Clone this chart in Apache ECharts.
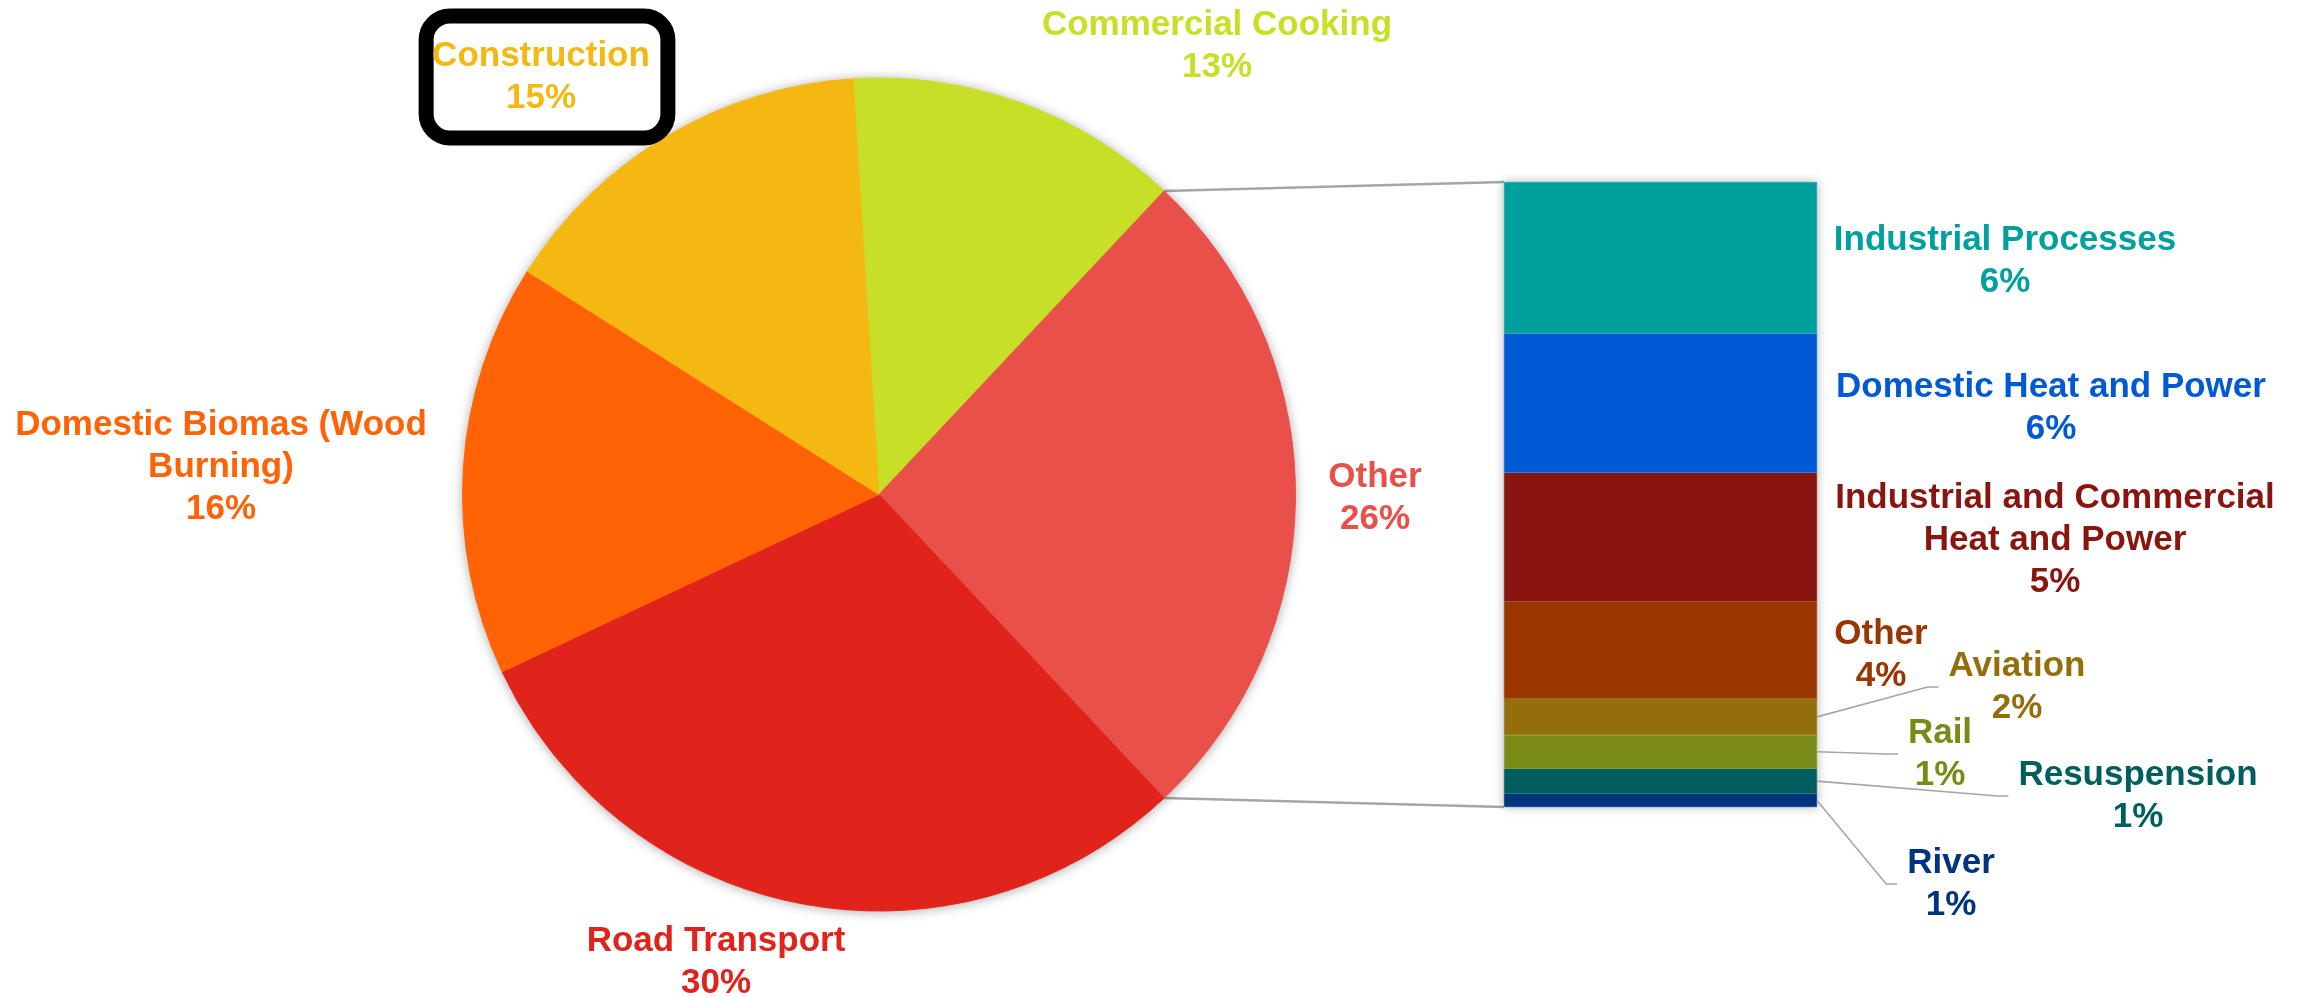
<!DOCTYPE html>
<html>
<head>
<meta charset="utf-8">
<script src="https://cdn.jsdelivr.net/npm/echarts@6/dist/echarts.min.js"></script>
<style>
  html, body { margin: 0; padding: 0; background: #ffffff; }
  #chart { width: 2310px; height: 997px; }
</style>
</head>
<body>
<div id="chart"></div>
<script>
// Main sources, percent of total
const pieNames  = ['Commercial Cooking', 'Other', 'Road Transport', 'Domestic Biomas (Wood Burning)', 'Construction'];
const pieLabels = ['Commercial Cooking', 'Other', 'Road Transport', 'Domestic Biomas (Wood\nBurning)', 'Construction'];
const pieValues = [13, 26, 30, 16, 15];
const pieColors = ['#C7E027', '#E9504A', '#E0231B', '#FF6305', '#F5B813'];

// Breakdown of "Other", listed top to bottom of the stacked bar
const otherNames  = ['Industrial Processes', 'Domestic Heat and Power', 'Industrial and Commercial Heat and Power', 'Other', 'Aviation', 'Rail', 'Resuspension', 'River'];
const otherLabels = ['Industrial Processes', 'Domestic Heat and Power', 'Industrial and Commercial\nHeat and Power', 'Other', 'Aviation', 'Rail', 'Resuspension', 'River'];
const otherValues = [6.3, 5.8, 5.35, 4.05, 1.5, 1.4, 1.05, 0.55];
const otherColors = ['#00A09F', '#005AD3', '#891511', '#9A3600', '#956E0C', '#7A8A16', '#005F5E', '#00347F'];
const otherWithLeader = ['Aviation', 'Rail', 'Resuspension', 'River'];

// Layout
const PIE_CENTER = [879, 494.5];
const PIE_RADIUS = 416.5;
const BAR_BOX = { left: 1504, top: 182, width: 313, height: 625 };
const FONT = '"Liberation Sans", Arial, Helvetica, sans-serif';
const FONT_SIZE = 35;
const LINE_HEIGHT = 42;
const LEADER_COLOR = '#A6A6A6';

// Label centres (px)
const pieLabelSpots = [
  [1217, 46], [1375, 498], [716, 962], [221, 467], [547, 77]
];
const otherLabelSpots = [
  [2005, 261], [2051, 408], [2055, 540], [1881, 655],
  [2017, 687], [1940, 754], [2138, 796], [1951, 884]
];

const sum = arr => arr.reduce((a, b) => a + b, 0);
const pieTotal = sum(pieValues);
const otherIdx = pieNames.indexOf('Other');
const beforeOther = sum(pieValues.slice(0, otherIdx));
// rotate so that the "Other" slice is centred on the 3 o'clock direction
const startAngle = (beforeOther + pieValues[otherIdx] / 2) / pieTotal * 360;
const otherTotal = sum(otherValues);

const baseText = { fontFamily: FONT, fontWeight: 'bold', fontSize: FONT_SIZE, lineHeight: LINE_HEIGHT, align: 'center' };

const pieData = pieNames.map((n, i) => {
  const item = {
    name: n,
    value: pieValues[i],
    itemStyle: { color: pieColors[i], borderColor: pieColors[i], borderWidth: 1 },
    label: Object.assign({ color: pieColors[i] }, baseText)
  };
  if (n === 'Construction') {
    Object.assign(item.label, {
      borderColor: '#000000', borderWidth: 15, borderRadius: 24,
      padding: [24, 18, 14, 6]
    });
  }
  return item;
});

const series = [
  // soft shadow under the whole pie
  {
    type: 'pie', silent: true, z: 1,
    center: PIE_CENTER, radius: PIE_RADIUS,
    label: { show: false }, labelLine: { show: false },
    itemStyle: { color: '#ffffff', shadowBlur: 12, shadowColor: 'rgba(0,0,0,0.35)', shadowOffsetY: 1 },
    data: [{ value: 1 }]
  },
  {
    type: 'pie', z: 2,
    center: PIE_CENTER, radius: PIE_RADIUS,
    startAngle: startAngle, clockwise: true,
    avoidLabelOverlap: false,
    label: {
      show: true, position: 'outside',
      formatter: p => pieLabels[p.dataIndex] + '\n' + p.value + '%'
    },
    labelLine: { show: false },
    labelLayout: p => ({
      x: pieLabelSpots[p.dataIndex][0], y: pieLabelSpots[p.dataIndex][1],
      align: 'center', verticalAlign: 'middle'
    }),
    data: pieData
  },
  // soft shadow behind the stacked bar
  {
    type: 'bar', silent: true, z: 1,
    barWidth: '100%', barGap: '-100%',
    itemStyle: { color: '#ffffff', shadowBlur: 10, shadowColor: 'rgba(0,0,0,0.3)' },
    data: [otherTotal]
  }
];

// stacked segments, bottom (River) first
for (let i = otherNames.length - 1; i >= 0; i--) {
  const idx = i;
  series.push({
    type: 'bar', name: otherNames[idx], stack: 'other', z: 2,
    barWidth: '100%', barGap: '-100%',
    itemStyle: { color: otherColors[idx], borderColor: otherColors[idx], borderWidth: 0.5 },
    label: Object.assign({
      show: true, position: 'right', color: otherColors[idx], padding: 0,
      formatter: p => otherLabels[idx] + '\n' + Math.round(p.value) + '%'
    }, baseText),
    labelLine: { show: false },
    labelLayout: () => ({
      x: otherLabelSpots[idx][0], y: otherLabelSpots[idx][1],
      align: 'center', verticalAlign: 'middle'
    }),
    data: [otherValues[idx]]
  });
}

const chart = echarts.init(document.getElementById('chart'), null, { renderer: 'canvas' });
chart.setOption({
  animation: false,
  backgroundColor: '#ffffff',
  grid: { left: BAR_BOX.left, top: BAR_BOX.top, width: BAR_BOX.width, height: BAR_BOX.height },
  xAxis: { type: 'category', data: ['Other'], show: false },
  yAxis: { type: 'value', min: 0, max: otherTotal, show: false },
  series: series
});

// connector lines from the "Other" slice edges to the bar corners
const rad = d => d * Math.PI / 180;
const aTop = startAngle - beforeOther / pieTotal * 360;
const aBottom = aTop - pieValues[otherIdx] / pieTotal * 360;
const onPie = a => [PIE_CENTER[0] + PIE_RADIUS * Math.cos(rad(a)), PIE_CENTER[1] - PIE_RADIUS * Math.sin(rad(a))];
const barTop = chart.convertToPixel({ gridIndex: 0 }, [0, otherTotal]);
const barBottom = chart.convertToPixel({ gridIndex: 0 }, [0, 0]);
const half = BAR_BOX.width / 2;
const graphics = [
  { type: 'line', z: 0, shape: { x1: onPie(aTop)[0], y1: onPie(aTop)[1], x2: barTop[0] - half, y2: barTop[1] },
    style: { stroke: LEADER_COLOR, lineWidth: 2.5 } },
  { type: 'line', z: 0, shape: { x1: onPie(aBottom)[0], y1: onPie(aBottom)[1], x2: barBottom[0] - half, y2: barBottom[1] },
    style: { stroke: LEADER_COLOR, lineWidth: 2.5 } }
];

// leader lines for the thin segments: from the middle of the segment's right edge
// to the left-middle of its label
const measureCtx = document.createElement('canvas').getContext('2d');
measureCtx.font = 'bold ' + FONT_SIZE + 'px ' + FONT;
const labelWidth = text => Math.max.apply(null, text.split('\n').map(t => measureCtx.measureText(t).width));
otherNames.forEach((n, idx) => {
  if (otherWithLeader.indexOf(n) < 0) return;
  const below = sum(otherValues.slice(idx + 1));
  const mid = chart.convertToPixel({ gridIndex: 0 }, [0, below + otherValues[idx] / 2]);
  const text = otherLabels[idx] + '\n' + Math.round(otherValues[idx]) + '%';
  const left = otherLabelSpots[idx][0] - labelWidth(text) / 2;
  const ly = otherLabelSpots[idx][1];
  graphics.push({
    type: 'polyline', z: 3,
    shape: { points: [[mid[0] + half, mid[1]], [left - 21, ly], [left - 10, ly]] },
    style: { stroke: LEADER_COLOR, lineWidth: 1.6, fill: null }
  });
});
chart.setOption({ graphic: graphics });
</script>
</body>
</html>
